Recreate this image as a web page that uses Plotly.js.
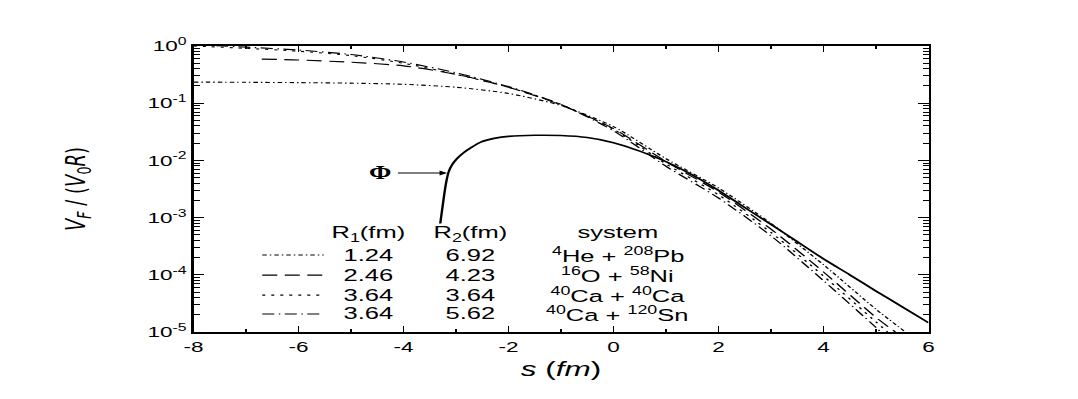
<!DOCTYPE html>
<html>
<head>
<meta charset="utf-8">
<script src="https://cdn.plot.ly/plotly-3.0.1.min.js"></script>
<style>
  html, body { margin: 0; padding: 0; background: #fff; overflow: hidden; }
  /* the original figure is stretched sideways, so lay it out narrow and widen it */
  #chart { width: 719px; height: 399px; transform: scaleX(1.5); transform-origin: 0 0; }
</style>
</head>
<body>
<div id="chart"></div>
<script>
// s (fm) and V_F/(V_0 R)
const sHePb = [-8, -7, -6, -5, -4, -3, -2, -1, 0, 1, 2, 3, 4, 5, 5.56];
const vHePb = [0.234, 0.232, 0.229, 0.224, 0.214, 0.19, 0.148, 0.091, 0.039, 0.0107, 0.0033, 7.9e-4, 1.5e-4, 2.5e-5, 1e-5];

const sONi = [-6.7, -6, -5, -4, -3, -2, -1, 0, 1, 2, 3, 4, 5, 5.37];
const vONi = [0.59, 0.57, 0.52, 0.45, 0.32, 0.19, 0.093, 0.036, 0.0095, 0.0028, 6.3e-4, 1.12e-4, 1.8e-5, 1e-5];

const sCaCa = [-8, -7, -6, -5, -4, -3, -2, -1, 0, 1, 2, 3, 4, 5, 5.22];
const vCaCa = [1.0, 0.91, 0.81, 0.68, 0.5, 0.32, 0.19, 0.095, 0.035, 0.0087, 0.0025, 5.5e-4, 9.5e-5, 1.5e-5, 1e-5];

const sCaSn = [-8, -7, -6, -5, -4, -3, -2, -1, 0, 1, 2, 3, 4, 5, 5.09];
const vCaSn = [1.05, 0.955, 0.85, 0.71, 0.525, 0.34, 0.195, 0.095, 0.033, 0.0079, 0.0022, 4.8e-4, 7.9e-5, 1.2e-5, 1e-5];

// the Phi curve (solid)
const sPhi = [-3.3, -3.24, -3.19, -3.14, -3.07, -2.97, -2.85, -2.72, -2.53, -2.25, -2, -1.5, -1, -0.5, 0, 0.5, 1, 1.5, 2, 2.5, 3, 3.5, 4, 4.5, 5, 5.5, 6];
const vPhi = [7.9e-4, 2.0e-3, 4.0e-3, 6.3e-3, 8.5e-3, 0.011, 0.0138, 0.0166, 0.0209, 0.0245, 0.0263, 0.0275, 0.0272, 0.0251, 0.0204, 0.0145, 0.0095, 0.0056, 0.003, 0.0015, 7.6e-4, 3.8e-4, 1.9e-4, 1.0e-4, 5.2e-5, 2.75e-5, 1.45e-5];

// legend table
const r1 = ["1.24", "2.46", "3.64", "3.64"];
const r2 = ["6.92", "4.23", "3.64", "5.62"];
const systems = [
  "<sup>4</sup>He + <sup>208</sup>Pb",
  "<sup>16</sup>O + <sup>58</sup>Ni",
  "<sup>40</sup>Ca + <sup>40</sup>Ca",
  "<sup>40</sup>Ca + <sup>120</sup>Sn"
];
const dashes = ["3px,2px,1px,2px", "10px,5px", "2px,4px", "8px,3px,1px,3px"];

const xTickVals = [-8, -6, -4, -2, 0, 2, 4, 6];
const xTickText = ["-8", "-6", "-4", "-2", "0", "2", "4", "6"];
const yTickVals = [1, 0.1, 0.01, 1e-3, 1e-4, 1e-5];
const yTickText = ["10<sup>0</sup>", "10<sup>-1</sup>", "10<sup>-2</sup>", "10<sup>-3</sup>", "10<sup>-4</sup>", "10<sup>-5</sup>"];

const FONT = "Liberation Sans, Arial, sans-serif";

function curve(x, y, dash, width) {
  return {
    type: "scatter", mode: "lines", x: x, y: y,
    line: { color: "#000", width: width, dash: dash, shape: "spline", smoothing: 0.7 },
    hoverinfo: "skip", showlegend: false
  };
}

let data = [
  curve(sHePb, vHePb, dashes[0], 1.1),
  curve(sONi, vONi, dashes[1], 1.1),
  curve(sCaCa, vCaCa, dashes[2], 1.1),
  curve(sCaSn, vCaSn, dashes[3], 1.1),
  curve(sPhi, vPhi, "solid", 1.6)
];

// rows of the little table (paper y)
const headerY = 0.343;
const rowY = [0.269, 0.199, 0.129, 0.063];

let shapes = [];
let annotations = [
  { text: "R<sub>1</sub>(fm)", x: -4.67, y: headerY },
  { text: "R<sub>2</sub>(fm)", x: -2.72, y: headerY },
  { text: "system", x: 0.08, y: headerY + 0.004 }
].map(a => Object.assign(a, {
  xref: "x", yref: "paper", showarrow: false, xanchor: "center", yanchor: "middle",
  font: { family: FONT, size: 17, color: "#000" }
}));

for (let i = 0; i < r1.length; i++) {
  shapes.push({
    type: "line", xref: "x", yref: "paper",
    x0: -6.69, x1: -5.52, y0: rowY[i], y1: rowY[i],
    line: { color: "#000", width: 1.1, dash: dashes[i] }
  });
  [[r1[i], -4.67], [r2[i], -2.72], [systems[i], 0.08]].forEach(([t, x]) => {
    annotations.push({
      text: t, x: x, y: rowY[i], xref: "x", yref: "paper",
      showarrow: false, xanchor: "center", yanchor: "middle",
      font: { family: FONT, size: 17, color: "#000" }
    });
  });
}

// Phi label with its arrow
annotations.push({
  text: "<b>Φ</b>", x: -4.44, y: -2.22, xref: "x", yref: "y",
  showarrow: false, xanchor: "center", yanchor: "middle",
  font: { family: "Liberation Serif, serif", size: 18, color: "#000" }
});
annotations.push({
  text: "", x: -3.17, y: -2.22, xref: "x", yref: "y",
  ax: -4.15, ay: -2.22, axref: "x", ayref: "y",
  showarrow: true, arrowhead: 2, arrowsize: 1, arrowwidth: 1, arrowcolor: "#000"
});

let layout = {
  width: 719,
  height: 399,
  margin: { l: 129, r: 100, t: 46, b: 67 },
  paper_bgcolor: "#fff",
  plot_bgcolor: "#fff",
  showlegend: false,
  font: { family: FONT, color: "#000" },
  xaxis: {
    range: [-8, 6],
    tickmode: "array", tickvals: xTickVals, ticktext: xTickText,
    ticks: "inside", ticklen: 6, tickwidth: 1.3, tickcolor: "#000",
    minor: { ticks: "inside", ticklen: 3, tickwidth: 1.2, tickmode: "linear", tick0: -8, dtick: 1, tickcolor: "#000", showgrid: false },
    showline: true, linewidth: 1.6, linecolor: "#000", mirror: "ticks",
    showgrid: false, zeroline: false,
    tickfont: { family: FONT, size: 15, color: "#000" },
    title: { text: "<i>s</i> (<i>fm</i>)", font: { family: FONT, size: 21, color: "#000" }, standoff: 8 }
  },
  yaxis: {
    type: "log",
    range: [-5, 0],
    tickmode: "array", tickvals: yTickVals, ticktext: yTickText,
    ticks: "inside", ticklen: 7, tickwidth: 1.3, tickcolor: "#000",
    minor: { ticks: "inside", ticklen: 4, tickwidth: 1, tickmode: "linear", dtick: "D1", tickcolor: "#000", showgrid: false },
    showline: true, linewidth: 1.6, linecolor: "#000", mirror: "ticks",
    showgrid: false, zeroline: false,
    tickfont: { family: FONT, size: 15, color: "#000" },
    title: {
      text: "<i>V<sub>F</sub></i> / (<i>V</i><sub>0</sub><i>R</i>)",
      font: { family: "DejaVu Sans, sans-serif", size: 18, color: "#000" },
      standoff: 36
    }
  },
  shapes: shapes,
  annotations: annotations
};

Plotly.newPlot("chart", data, layout, { staticPlot: true, displayModeBar: false });
</script>
</body>
</html>
